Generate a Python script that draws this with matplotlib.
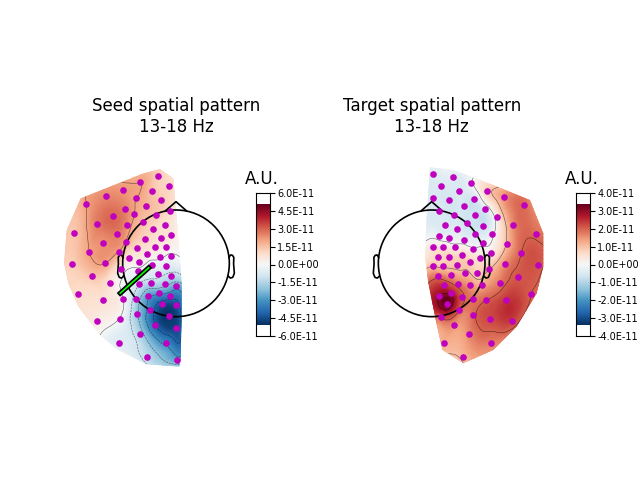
import numpy as np
import matplotlib
matplotlib.use("Agg")
import matplotlib.pyplot as plt
import matplotlib.tri as mtri
from matplotlib.patches import Circle, Polygon

# values in units of 1E-11, positions
seed_x = [325, 271, 358, 220, 307, 169, 259, 334, 109, 289, 226, 361, 190, 253, 319, 280, 142, 232, 346, 310,
          73, 202, 364, 334, 286, 160, 228, 262, 316, 349, 118, 208, 292, 364, 238, 331, 166, 268, 67, 307,
          349, 214, 265, 127, 325, 364, 181, 268, 304, 346, 379, 85, 295, 328, 361, 220, 160, 259, 337, 379,
          301, 262, 358, 211, 142, 316, 379, 271, 349, 208, 292, 382]
seed_y = [79, 97, 109, 121, 124, 139, 145, 151, 163, 169, 178, 184, 199, 193, 196, 217, 223, 226, 226, 238,
          250, 253, 256, 265, 268, 280, 277, 295, 292, 292, 307, 307, 313, 319, 325, 322, 340, 337, 343, 346,
          349, 358, 364, 379, 373, 379, 400, 403, 400, 403, 409, 433, 439, 430, 439, 448, 451, 448, 463, 466,
          481, 493, 499, 508, 514, 526, 535, 553, 580, 580, 622, 631]
seed_v = [1.2, 2.0, 1.0, 2.2, 1.4, 2.4, 2.0, 1.3, 2.0, 1.7, 2.5, 0.8, 2.9, 2.0, 1.3, 1.4, 2.6, 2.3, 0.8, 1.0,
          1.4, 2.6, 0.6, 0.7, 1.1, 2.3, 1.9, 0.9, 0.6, 0.3, 2.0, 1.9, 0.4, -0.1, 0.5, 0.1, 2.0, 0.3, 1.2, -0.3,
          -0.6, 0.3, -0.2, 1.4, -0.8, -1.3, 0.6, -1.0, -1.4, -1.8, -2.6, 0.9, -2.8, -2.8, -3.6, 0.0, 0.7, -1.5, -4.4, -4.4,
          -3.5, -1.9, -4.9, -0.1, 0.4, -4.0, -4.6, -1.6, -3.2, -0.6, -1.3, -2.6]
seed_edge_x = [330, 370, 378, 385, 395, 395, 392, 388, 290, 205, 150, 85, 55, 42, 50, 92, 275]
seed_edge_y = [57, 85, 180, 280, 400, 500, 620, 650, 643, 600, 555, 470, 400, 340, 240, 145, 72]
seed_edge_v = [1.1, 0.9, 0.5, 0.2, -2.0, -3.8, -3.0, -1.6, -1.0, -0.4, 0.0, 0.8, 1.1, 1.2, 1.4, 1.8, 1.8]

target_x = [220, 280, 334, 244, 298, 382, 220, 268, 343, 433, 493, 313, 376, 238, 283, 346, 412, 322, 256, 370,
            292, 460, 397, 238, 268, 313, 346, 529, 370, 442, 220, 250, 286, 340, 394, 484, 307, 235, 268, 361,
            331, 436, 535, 220, 250, 292, 388, 352, 316, 235, 274, 475, 421, 253, 295, 331, 367, 514, 238, 274,
            307, 340, 379, 439, 262, 298, 340, 244, 391, 457, 283, 328, 253, 394, 310]
target_y = [73, 82, 100, 109, 124, 124, 145, 151, 148, 142, 166, 169, 178, 184, 196, 196, 202, 220, 226, 229,
            238, 226, 253, 259, 265, 271, 253, 253, 280, 283, 292, 292, 292, 298, 310, 310, 316, 322, 322, 325,
            337, 343, 346, 349, 349, 346, 358, 370, 370, 379, 376, 382, 400, 406, 403, 406, 406, 433, 439, 430,
            442, 448, 451, 451, 463, 481, 496, 502, 508, 514, 526, 553, 580, 580, 622]
target_v = [-0.4, -0.4, -0.1, -0.5, -0.5, 0.8, -0.5, -0.6, -0.6, 1.5, 1.9, -0.6, -0.4, -0.5, -0.6, -0.7, 0.3, -0.7, -0.5, -0.7,
            -0.4, 1.6, -0.1, -0.2, -0.2, -0.2, -0.5, 1.9, -0.1, 1.1, 0.4, 0.4, 0.2, 0.1, 0.3, 2.0, 0.7, 0.7, 0.8, 0.5,
            0.8, 1.6, 2.1, 1.0, 0.9, 0.9, 1.0, 0.8, 1.1, 1.8, 1.4, 2.1, 1.8, 2.4, 1.8, 1.5, 1.3, 2.0, 3.0, 2.8,
            2.1, 1.8, 2.0, 2.4, 3.4, 2.0, 1.9, 2.1, 2.2, 2.3, 1.5, 1.6, 1.2, 1.7, 1.1]
target_edge_x = [210, 280, 400, 510, 550, 550, 530, 470, 400, 310, 247, 225, 205, 195, 200]
target_edge_y = [52, 60, 105, 150, 250, 350, 430, 530, 600, 640, 600, 500, 400, 320, 200]
target_edge_v = [-0.3, -0.2, 0.8, 1.6, 1.8, 2.0, 1.9, 1.9, 1.5, 1.0, 1.1, 2.0, 2.0, 0.4, -0.5]

seed_ticks = [6, 4.5, 3, 1.5, 0, -1.5, -3, -4.5, -6]
seed_labels = ["6.0E-11", "4.5E-11", "3.0E-11", "1.5E-11", "0.0E+00", "-1.5E-11", "-3.0E-11", "-4.5E-11", "-6.0E-11"]
target_ticks = [4, 3, 2, 1, 0, -1, -2, -3, -4]
target_labels = ["4.0E-11", "3.0E-11", "2.0E-11", "1.0E-11", "0.0E+00", "-1.0E-11", "-2.0E-11", "-3.0E-11", "-4.0E-11"]

seed_levels = [-4, -3, -2, -1, 0, 2]
target_levels = [0, 1, 2, 3]

ear_x = [.497, .51, .518, .5299, .5419, .54, .547, .532, .510, .489]
ear_y = [.0555, .0775, .0783, .0746, .0555, -.0055, -.0932, -.1313, -.1384, -.1199]

W, H = 640, 480


def draw_map(left, cx, x, y, v, ex, ey, ev, vmax, levels, title):
    ax = plt.axes([left / W, (H - 380) / H, 200 / W, 230 / H])
    ax.set_xlim(0, 600)
    ax.set_ylim(690, 0)
    ax.axis("off")

    px = np.array(list(x) + list(ex), float)
    py = np.array(list(y) + list(ey), float)
    pv = np.array(list(v) + list(ev), float)
    tri = mtri.Triangulation(px, py)
    interp = mtri.CubicTriInterpolator(tri, pv, kind="min_E")
    fine, fine_v = mtri.UniformTriRefiner(tri).refine_field(pv, triinterpolator=interp, subdiv=3)

    clip = Polygon(np.column_stack([ex, ey]), closed=True, transform=ax.transData, fc="none", ec="none")
    ax.add_patch(clip)
    mesh = ax.tripcolor(fine, fine_v, shading="gouraud", cmap="RdBu_r", vmin=-vmax, vmax=vmax)
    mesh.set_clip_path(clip)
    cs = ax.tricontour(fine, fine_v, levels=levels, colors="k", linewidths=0.4, alpha=0.6)
    cs.set_clip_path(clip)

    ax.scatter(x, y, s=14, c="m", zorder=4, clip_on=False)

    # head outline
    ax.add_patch(Circle((cx, 340), 160, fc="none", ec="k", lw=1.2, zorder=3))
    ax.plot([cx - 31, cx, cx + 31], [182, 155, 182], color="k", lw=1.2, zorder=3)
    for side in [-1, 1]:
        ax.plot(cx + side * 320 * np.array(ear_x), 340 - 320 * np.array(ear_y), color="k", lw=1.2, zorder=3, clip_on=False)
    ax.set_title(title, fontsize=12, x=(cx) / 600, y=1.0, pad=13)
    return ax


def draw_bar(left, vmax, lim, ticks, labels):
    cax = plt.axes([left / W, (H - 336.3) / H, 13.5 / W, 143.6 / H])
    grad = np.linspace(-vmax, vmax, 256).reshape(-1, 1)
    cax.imshow(grad, cmap="RdBu_r", origin="lower", aspect="auto", extent=[0, 1, -vmax, vmax])
    cax.set_ylim(-lim, lim)
    cax.set_xticks([])
    cax.yaxis.tick_right()
    cax.set_yticks(ticks)
    cax.set_yticklabels(labels)
    cax.tick_params(axis="y", labelsize=7, length=3.5, width=0.8, pad=2)
    cax.set_title("A.U.", fontsize=12, pad=6, x=0.45)


fig = plt.figure(figsize=(6.4, 4.8), dpi=100)

ax1 = draw_map(50, 378, seed_x, seed_y, seed_v, seed_edge_x, seed_edge_y, seed_edge_v, 5.05, seed_levels,
               "Seed spatial pattern\n13-18 Hz")
ax1.arrow(207, 433, 93, -83, width=10, head_width=10, head_length=0, fc="lime", ec="k", lw=1.2, zorder=5)
draw_bar(256.2, 5.05, 6, seed_ticks, seed_labels)

ax2 = draw_map(360, 215, target_x, target_y, target_v, target_edge_x, target_edge_y, target_edge_v, 3.37, target_levels,
               "Target spatial pattern\n13-18 Hz")
draw_bar(576.2, 3.37, 4, target_ticks, target_labels)

fig.savefig("out.png", dpi=100)
